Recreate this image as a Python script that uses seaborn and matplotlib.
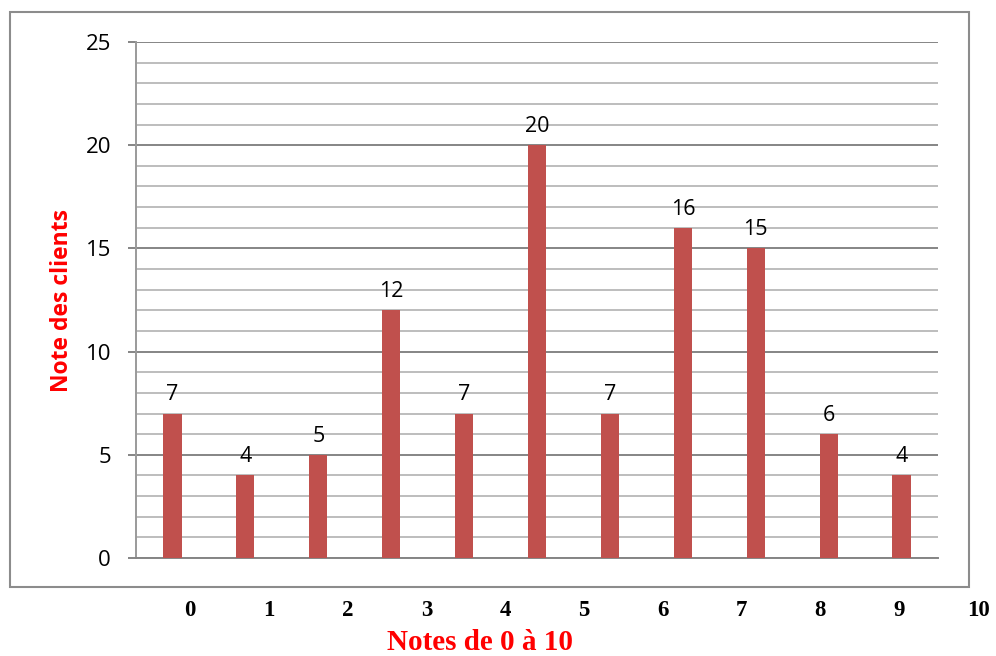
import matplotlib
matplotlib.use("Agg")
import matplotlib.pyplot as plt
import seaborn as sns
import pandas as pd
from matplotlib.patches import Rectangle
from matplotlib.ticker import MultipleLocator

# données
categories = ["0", "1", "2", "3", "4", "5", "6", "7", "8", "9", "10"]
valeurs = [7, 4, 5, 12, 7, 20, 7, 16, 15, 6, 4]
etiquettes_x = ["0", "1", "2", "3", "4", "5", "6", "7", "8", "9", "10"]

df = pd.DataFrame({"Note": categories, "Clients": valeurs})

sns.set_style("white")
plt.rcParams["font.family"] = ["Open Sans", "DejaVu Sans"]

fig = plt.figure(figsize=(9.96, 6.56), dpi=100)
ax = fig.add_axes([136 / 996, 1 - 558 / 656, (938 - 136) / 996, (558 - 42) / 656])

sns.barplot(data=df, x="Note", y="Clients", color="#C0504D", saturation=1,
            width=0.25, linewidth=0, ax=ax, zorder=3)

# étiquettes de valeurs
for i, v in enumerate(valeurs):
    ax.text(i, v + 0.4, str(v), ha="center", va="bottom", fontsize=15.5, color="black")

ax.set_ylim(0, 25)
ax.set_xlim(-0.5, len(categories) - 0.5)
ax.yaxis.set_major_locator(MultipleLocator(5))
ax.yaxis.set_minor_locator(MultipleLocator(1))
ax.grid(axis="y", which="major", color="#858585", linewidth=1.4, zorder=0)
ax.grid(axis="y", which="minor", color="#bdbdbd", linewidth=1.4, zorder=0)
ax.set_axisbelow(True)

for s in ["top", "right"]:
    ax.spines[s].set_visible(False)
ax.spines["left"].set_color("#9a9a9a")
ax.spines["left"].set_linewidth(1.4)
ax.spines["bottom"].set_color("#858585")
ax.spines["bottom"].set_linewidth(1.4)

ax.tick_params(axis="y", which="major", direction="out", length=6, width=1.4,
               color="#858585", pad=12, labelsize=16, labelcolor="black", left=True)
ax.tick_params(axis="y", which="minor", length=0)
ax.tick_params(axis="x", length=0, labelbottom=False)
ax.set_xlabel("")
ax.set_ylabel("")

# étiquettes de l'axe x, sous le cadre
for i, lab in enumerate(etiquettes_x):
    fig.text((190 + 78.8 * i) / 996, 1 - 610 / 656, lab, ha="center", va="center",
             fontsize=16.5, fontweight="bold", color="black", family="Liberation Serif")

fig.text(480 / 996, 1 - 643 / 656, "Notes de 0 à 10", ha="center", va="center",
         fontsize=21, fontweight="bold", color="#FF0000", family="Liberation Serif")
fig.text(62 / 996, 1 - 300 / 656, "Note des clients", ha="center", va="center",
         rotation=90, fontsize=16.5, fontweight="bold", color="#FF0000")

# cadre extérieur
fig.patches.append(Rectangle((10 / 996, 1 - 587 / 656), (969 - 10) / 996, (587 - 12) / 656,
                             transform=fig.transFigure, fill=False,
                             edgecolor="#8c8c8c", linewidth=1.5))

fig.savefig("out.png", dpi=100)
